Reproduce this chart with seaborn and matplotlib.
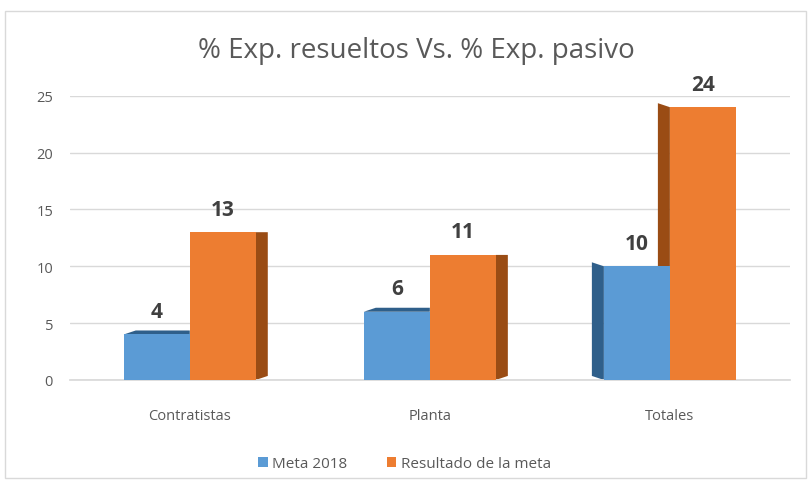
import pandas as pd
import numpy as np
import matplotlib
matplotlib.use("Agg")
import matplotlib.pyplot as plt
from matplotlib.patches import Polygon, Rectangle
import seaborn as sns

# datos
categorias = ["Contratistas", "Planta", "Totales"]
meta_2018 = [4, 6, 10]
resultado = [13, 11, 24]
series = ["Meta 2018", "Resultado de la meta"]
colores = ["#5B9BD5", "#ED7D31"]
oscuros = ["#2F5F8A", "#9A4C14"]

df = pd.DataFrame({
    "Categoria": categorias * 2,
    "Serie": [series[0]] * 3 + [series[1]] * 3,
    "Valor": meta_2018 + resultado,
})

sns.set_theme(style="white")
plt.rcParams["font.family"] = ["Open Sans", "DejaVu Sans"]

fig = plt.figure(figsize=(8.11, 4.89), dpi=100)
ax = fig.add_axes([0.086, 0.221, 0.888, 0.581])

sns.barplot(data=df, x="Categoria", y="Valor", hue="Serie", palette=colores,
            width=0.55, saturation=1, linewidth=0, edgecolor="none",
            ax=ax, legend=True, zorder=3)

ax.set_ylim(0, 25)
ax.set_yticks(range(0, 26, 5))
ax.set_xlim(-0.5, 2.5)
ax.grid(axis="y", color="#D9D9D9", linewidth=1, zorder=0)
for s in ["top", "right", "left"]:
    ax.spines[s].set_visible(False)
ax.spines["bottom"].set_color("#D9D9D9")
ax.tick_params(axis="both", length=0, colors="#595959", labelsize=10.5)
ax.tick_params(axis="y", pad=12)
ax.tick_params(axis="x", pad=20)
ax.set_xlabel("")
ax.set_ylabel("")

# caras laterales (efecto 3D) a partir de las barras dibujadas
fig.canvas.draw()
w_px = ax.get_window_extent().width
h_px = ax.get_window_extent().height
dx = 12 * 3 / w_px
dy = 4 * 25 / h_px
for k, cont in enumerate(ax.containers):
    for i, bar in enumerate(cont):
        x0 = bar.get_x()
        x1 = x0 + bar.get_width()
        top = bar.get_height()
        if i < 2:
            if k == 1:
                poly = [(x1, 0), (x1 + dx, dy), (x1 + dx, top), (x1, top)]
            else:
                poly = [(x0, top), (x0 + dx, top + dy), (x1, top + dy), (x1, top)]
        else:
            poly = [(x0, 0), (x0 - dx, dy), (x0 - dx, top + dy), (x0, top)]
        ax.add_patch(Polygon(poly, closed=True, facecolor=oscuros[k],
                             edgecolor="none", zorder=2))
    labels = [f"{v:.0f}" for v in cont.datavalues]
    ax.bar_label(cont, labels=labels, padding=9, fontsize=15, fontweight="bold",
                 color="#404040")

leg = ax.legend(loc="upper center", bbox_to_anchor=(0.465, -0.22), ncol=2,
                frameon=False, fontsize=11, handlelength=0.6, handleheight=0.6,
                handletextpad=0.3, columnspacing=2.6)
for t in leg.get_texts():
    t.set_color("#595959")

fig.suptitle("% Exp. resueltos Vs. % Exp. pasivo", x=0.513, y=0.925, fontsize=20,
             color="#595959")

fig.patches.append(Rectangle((0.006, 0.02), 0.988, 0.955, transform=fig.transFigure,
                             fill=False, edgecolor="#D9D9D9", linewidth=1))

fig.savefig("out.png", dpi=100)
